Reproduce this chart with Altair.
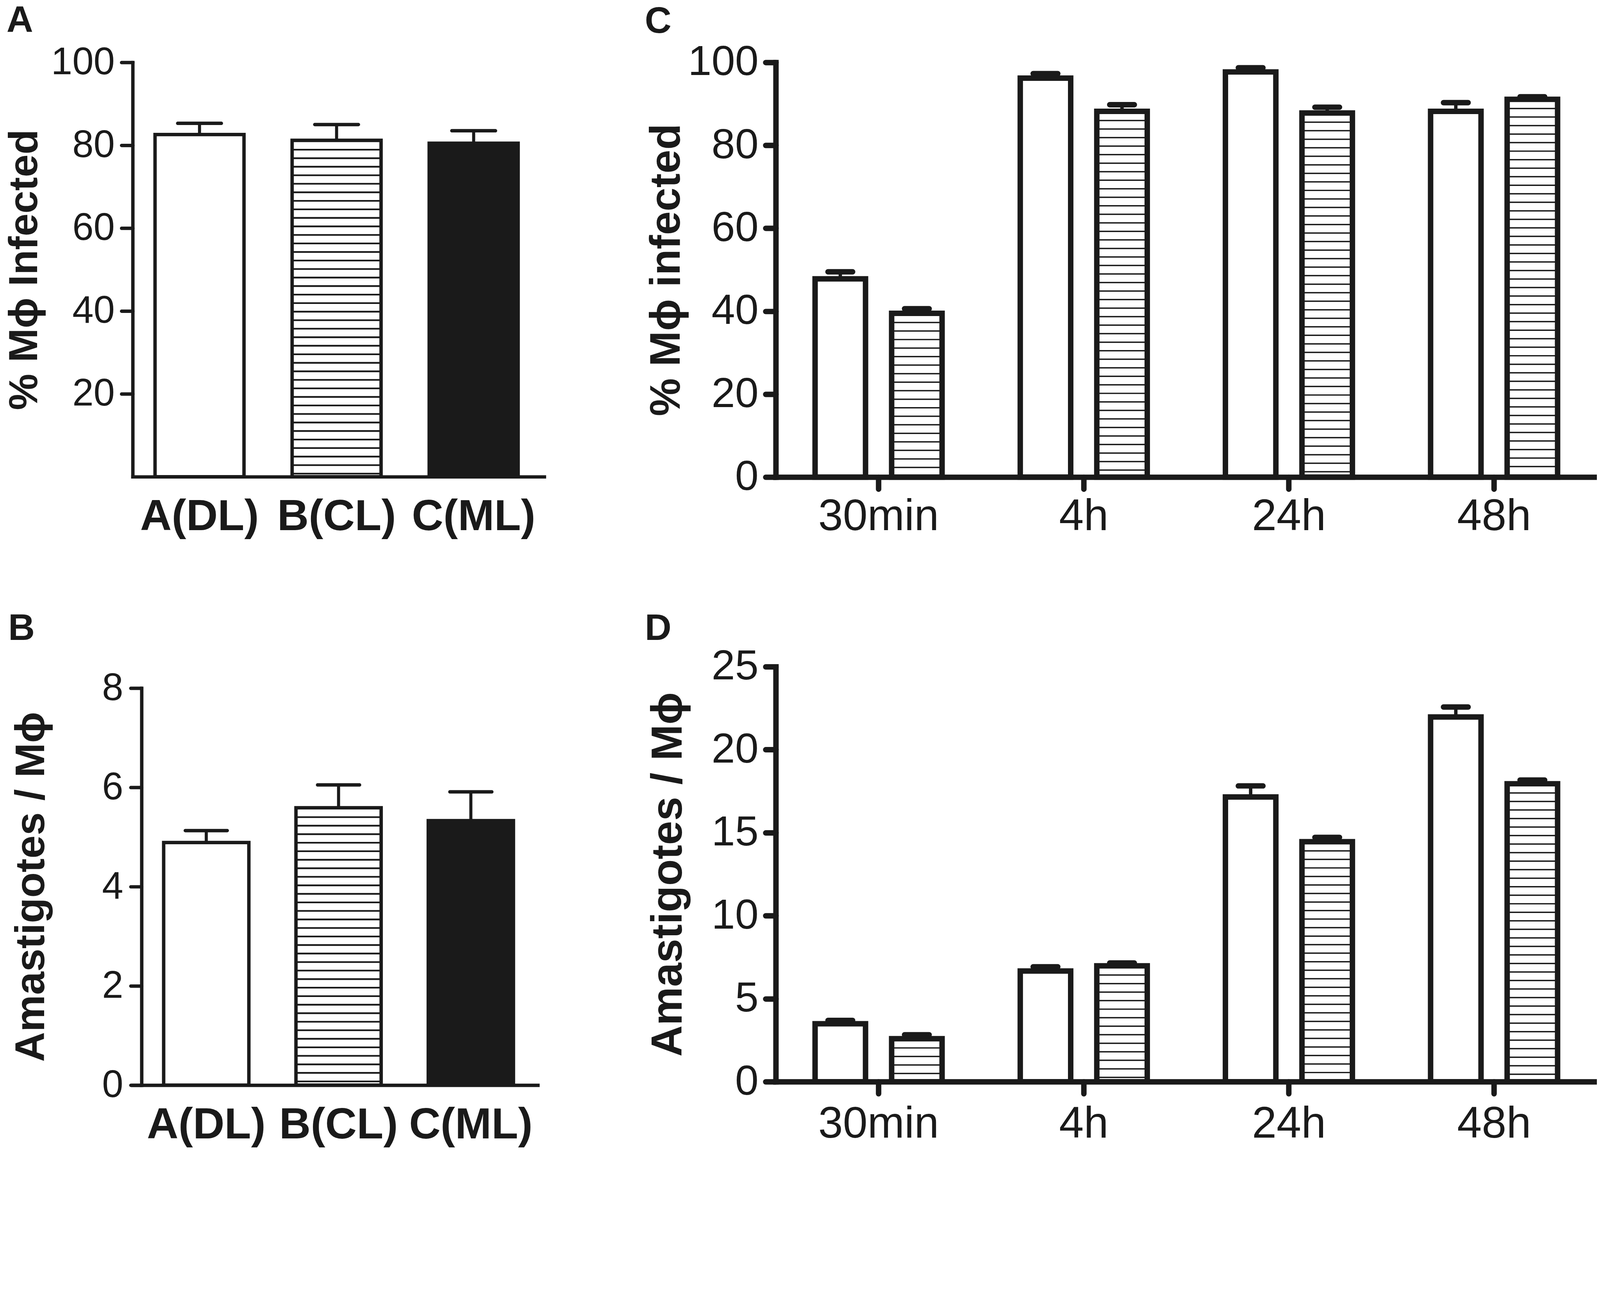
import altair as alt
import pandas as pd

INK = "#1a1a1a"
FONT = "Liberation Sans"

# ---------------- data ----------------
groups_ab = ["A(DL)", "B(CL)", "C(ML)"]
styles_ab = ["open", "hatched", "solid"]
a_mean = [82.6, 81.2, 80.5]
a_err = [2.7, 3.8, 3.0]
b_mean = [4.89, 5.59, 5.33]
b_err = [0.24, 0.46, 0.58]

times = ["30min", "4h", "24h", "48h"]
series_cd = ["open", "hatched"]
c_open = [47.8, 96.2, 97.7, 88.2]
c_open_err = [1.7, 1.1, 1.0, 2.1]
c_hatch = [39.5, 88.2, 87.8, 91.1]
c_hatch_err = [1.1, 1.6, 1.4, 0.6]
d_open = [3.49, 6.67, 17.15, 21.97]
d_open_err = [0.20, 0.25, 0.67, 0.60]
d_hatch = [2.59, 6.98, 14.46, 17.95]
d_hatch_err = [0.24, 0.17, 0.26, 0.22]

a_ticks = [20, 40, 60, 80, 100]
b_ticks = [0, 2, 4, 6, 8]
c_ticks = [0, 20, 40, 60, 80, 100]
d_ticks = [0, 5, 10, 15, 20, 25]


def y_axis(title, values, lab_size, title_size, title_pad, lw, tick_size, lab_pad, offset=0):
    return alt.Axis(
        values=values, title=title, grid=False, offset=offset,
        labelFont=FONT, labelFontSize=lab_size, labelColor=INK, labelPadding=lab_pad,
        labelFlush=False, labelOverlap=False, labelLimit=600,
        titleFont=FONT, titleFontSize=title_size, titleFontWeight="bold", titleColor=INK,
        titlePadding=title_pad, titleBaseline="alphabetic",
        domainColor=INK, domainWidth=lw, domainCap="square",
        tickColor=INK, tickWidth=lw, tickSize=tick_size, tickCap="round",
    )


def letter_layer(letter, lx, ly):
    return alt.Chart(pd.DataFrame({"letter": [letter]})).mark_text(
        font=FONT, fontSize=108, fontWeight="bold", color=INK, align="left", baseline="alphabetic"
    ).encode(x=alt.value(lx), y=alt.value(ly), text="letter:N")


def panel_ab(mean, err, ydom, yaxis, width, height, sc, letter, lpos, lw, bw, cap, cap_th, stem, dash, xpad):
    df = pd.DataFrame({"group": groups_ab, "style": styles_ab, "mean": mean, "err": err})
    base = alt.Chart(df).transform_calculate(upper="datum.mean + datum.err")
    xaxis = alt.Axis(
        title=None, labelAngle=0, ticks=False, labelFont=FONT, labelFontSize=128,
        labelFontWeight="bold", labelColor=INK, labelPadding=xpad, labelFlush=False, labelLimit=600,
        domainColor=INK, domainWidth=lw, domainCap="square",
    )
    x = alt.X("group:N", sort=groups_ab, scale=alt.Scale(**sc), axis=xaxis)

    def y(field):
        return alt.Y(field, type="quantitative", scale=alt.Scale(domain=ydom, nice=False), axis=yaxis)

    bars = base.mark_bar(stroke=INK, strokeWidth=lw).encode(
        x=x, y=y("mean"),
        fill=alt.Fill("style:N", scale=alt.Scale(domain=styles_ab, range=["white", "white", INK]), legend=None),
    )
    hatch = base.transform_filter("datum.style == 'hatched'").mark_rule(
        color=INK, strokeWidth=bw, strokeDash=dash
    ).encode(x=x, y=y("mean"), y2=alt.datum(0))
    stem_l = base.mark_rule(color=INK, strokeWidth=stem).encode(x=x, y=y("mean"), y2="upper:Q")
    cap_l = base.mark_tick(color=INK, opacity=1, size=cap, thickness=cap_th, orient="horizontal",
                           cornerRadius=cap_th / 2).encode(x=x, y=y("upper"))
    return alt.layer(bars, hatch, stem_l, cap_l, letter_layer(letter, *lpos)).properties(
        width=width, height=height)


def panel_cd(open_v, open_e, hatch_v, hatch_e, ydom, yaxis, letter, lpos, xpad, height):
    rows = []
    for i, t in enumerate(times):
        rows.append({"time": t, "series": "open", "mean": open_v[i], "err": open_e[i]})
        rows.append({"time": t, "series": "hatched", "mean": hatch_v[i], "err": hatch_e[i]})
    df = pd.DataFrame(rows)
    base = alt.Chart(df).transform_calculate(upper="datum.mean + datum.err")
    lw = 16
    xaxis = alt.Axis(
        title=None, labelAngle=0, ticks=True, tickSize=35, tickWidth=lw, tickColor=INK, tickCap="round",
        labelFont=FONT, labelFontSize=130, labelColor=INK, labelPadding=xpad, labelFlush=False,
        labelLimit=600, domainColor=INK, domainWidth=lw, domainCap="square",
    )
    x = alt.X("time:N", sort=times,
              scale=alt.Scale(paddingInner=0.381, paddingOuter=0.1915, align=0.5), axis=xaxis)
    xo = alt.XOffset("series:N", sort=series_cd, scale=alt.Scale(paddingInner=0.341, paddingOuter=0))

    def y(field):
        return alt.Y(field, type="quantitative", scale=alt.Scale(domain=ydom, nice=False), axis=yaxis)

    bars = base.mark_bar(stroke=INK, strokeWidth=lw, fill="white").encode(x=x, xOffset=xo, y=y("mean"))
    hatch = base.transform_filter("datum.series == 'hatched'").mark_rule(
        color=INK, strokeWidth=148, strokeDash=[4, 21]
    ).encode(x=x, xOffset=xo, y=y("mean"), y2=alt.datum(0))
    stem_l = base.mark_rule(color=INK, strokeWidth=10).encode(x=x, xOffset=xo, y=y("mean"), y2="upper:Q")
    cap_l = base.mark_tick(color=INK, opacity=1, size=88, thickness=16, orient="horizontal",
                           cornerRadius=8).encode(x=x, xOffset=xo, y=y("upper"))
    return alt.layer(bars, hatch, stem_l, cap_l, letter_layer(letter, *lpos)).properties(
        width=2408, height=height)


pA = panel_ab(
    a_mean, a_err, [0, 100],
    y_axis("% Mϕ Infected", a_ticks, 112, 120, 81, 10, 33, 20),
    1207, 1215, dict(paddingInner=0.351, paddingOuter=0.1768, align=0.461),
    "A", (-370, -89), 10, 261, 138, 10, 9, [5, 20], 55,
)
pB = panel_ab(
    b_mean, b_err, [0, 8],
    y_axis("Amastigotes / Mϕ", b_ticks, 112, 122, 170, 10, 32, 22, offset=-26),
    1188, 1164, dict(paddingInner=0.356, paddingOuter=0.209, align=0.56),
    "B", (-365, -142), 10, 250, 133, 10, 9, [5, 20], 55,
)
pC = panel_cd(
    c_open, c_open_err, c_hatch, c_hatch_err, [0, 100],
    y_axis("% Mϕ infected", c_ticks, 124, 125, 82, 16, 30, 21),
    "C", (-384, -87), 17, 1216,
)
pD = panel_cd(
    d_open, d_open_err, d_hatch, d_hatch_err, [0, 25],
    y_axis("Amastigotes / Mϕ", d_ticks, 124, 127, 88, 16, 30, 21),
    "D", (-384, -79), 25, 1217,
)

left = alt.vconcat(pA, pB, spacing=620, bounds="flush")
right = alt.vconcat(pC, pD, spacing=556, bounds="flush")

# the layout reserves an empty band above and below the drawing; trim part of it with the padding
chart = alt.hconcat(left, right, spacing=295).properties(
    padding={"left": 3, "top": -216, "right": 0, "bottom": -189},
    background="white",
).configure_view(stroke=None)

chart.save("out.html", embed_options={"renderer": "svg", "actions": False})
